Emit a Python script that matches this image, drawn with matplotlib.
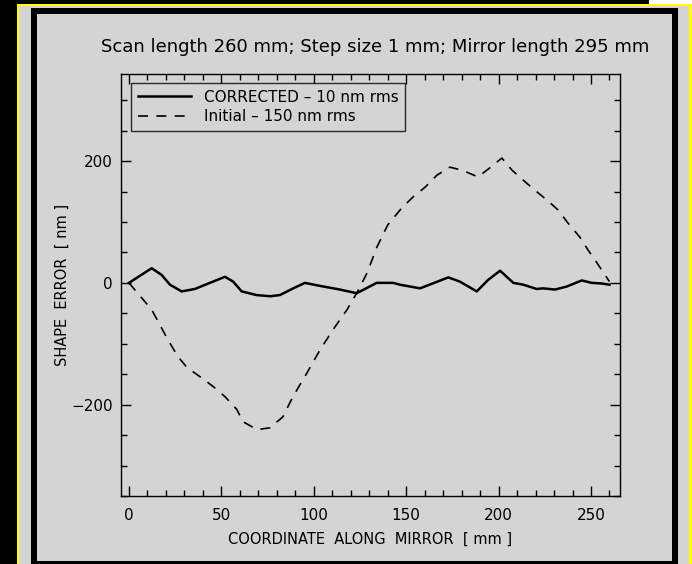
import matplotlib
matplotlib.use("Agg")
import matplotlib.pyplot as plt
from matplotlib.patches import Rectangle
from matplotlib.ticker import MultipleLocator

# ---- data ----
corr_x = [0, 12.3, 17.7, 22.2, 28.5, 35.7, 43.8, 52, 56.4, 61, 69, 76.3, 81.7, 88.9,
          95.2, 103.4, 114.2, 123.2, 127.7, 134, 143, 146.6, 157.5, 172.8, 179.1, 188.2,
          194.4, 200.8, 208, 213.4, 220.6, 224.2, 230.5, 236.9, 245, 250.4, 255.8, 260]
corr_y = [0, 24, 13, -3, -14, -10, 0, 10, 2, -14, -20, -22, -20, -9,
          0, -5, -11, -17, -10, 0, 0, -3, -9, 9, 2, -14,
          5, 20, 0, -3, -10, -9, -11, -6, 4, 0, -1, -3]

init_x = [0, 12.3, 21, 26.5, 31.4, 38.4, 45.5, 52, 58.4, 61.7, 69.3, 76.3, 83.3, 88.7,
          96.3, 103.4, 110.4, 118, 123.4, 128.8, 134.2, 140, 147.6, 153.7, 160.2, 166.7,
          173.7, 180.2, 188.9, 195.3, 201.8, 207.3, 213.2, 219.7, 226.2, 232.1, 237.6,
          244, 248.4, 253.2, 260]
init_y = [0, -44, -93, -121, -139, -154, -170, -187, -208, -228, -241, -238, -220, -187,
          -148, -110, -77, -44, -16, 16, 59, 95, 123, 141, 157, 177,
          190, 185, 174, 189, 205, 185, 169, 152, 136, 120, 98,
          75, 54, 33, 2]

title = "Scan length 260 mm; Step size 1 mm; Mirror length 295 mm"
xlabel = "COORDINATE  ALONG  MIRROR  [ mm ]"
ylabel = "SHAPE  ERROR  [ nm ]"
label_corr = "CORRECTED \u2013 10 nm rms"
label_init = "Initial \u2013 150 nm rms"

W, H = 692, 564
GRAY = "#d4d4d4"

fig = plt.figure(figsize=(W / 100, H / 100), dpi=100, facecolor="black")


def prect(x0, y0, x1, y1, color, z):
    fig.add_artist(Rectangle((x0 / W, 1 - y1 / H), (x1 - x0) / W, (y1 - y0) / H,
                             transform=fig.transFigure, facecolor=color,
                             edgecolor="none", zorder=z))


prect(649, 0, 692, 4, "white", -10)
prect(17, 4, 692, 564, "#ffff00", -9)
prect(19, 6, 689, 564, GRAY, -8)
prect(31, 8, 678, 564, "black", -7)
prect(37, 14, 672, 561, GRAY, -6)

ax = fig.add_axes([121 / W, 1 - 496 / H, 499 / W, 422 / H])
ax.set_facecolor(GRAY)

ax.plot(corr_x, corr_y, color="black", lw=1.8, label=label_corr)
ax.plot(init_x, init_y, color="black", lw=1.2, linestyle=(0, (6, 5)), label=label_init)

ax.set_xlim(-4.3, 265.7)
ax.set_ylim(-350, 343)
ax.xaxis.set_major_locator(MultipleLocator(50))
ax.xaxis.set_minor_locator(MultipleLocator(10))
ax.yaxis.set_major_locator(MultipleLocator(200))
ax.yaxis.set_minor_locator(MultipleLocator(50))
ax.tick_params(which="both", direction="in", top=True, right=True, width=1, labelsize=11)
ax.tick_params(which="major", length=7, pad=6)
ax.tick_params(which="minor", length=4)
ax.tick_params(axis="x", which="major", length=7, pad=9)
for s in ax.spines.values():
    s.set_linewidth(1.0)

ax.set_title(title, fontsize=13, pad=16, x=0.509)
ax.set_xlabel(xlabel, fontsize=10.5, labelpad=6)
ax.set_ylabel(ylabel, fontsize=10.5, labelpad=1)

leg = ax.legend(loc="upper left", bbox_to_anchor=(0.02, 0.979), borderaxespad=0,
                fontsize=11, frameon=True, fancybox=False, edgecolor="black",
                facecolor=GRAY, handlelength=3.5, borderpad=0.45, labelspacing=0.3,
                handletextpad=0.8)
leg.get_frame().set_linewidth(1.0)

fig.savefig("out.png", dpi=100, facecolor=fig.get_facecolor())
